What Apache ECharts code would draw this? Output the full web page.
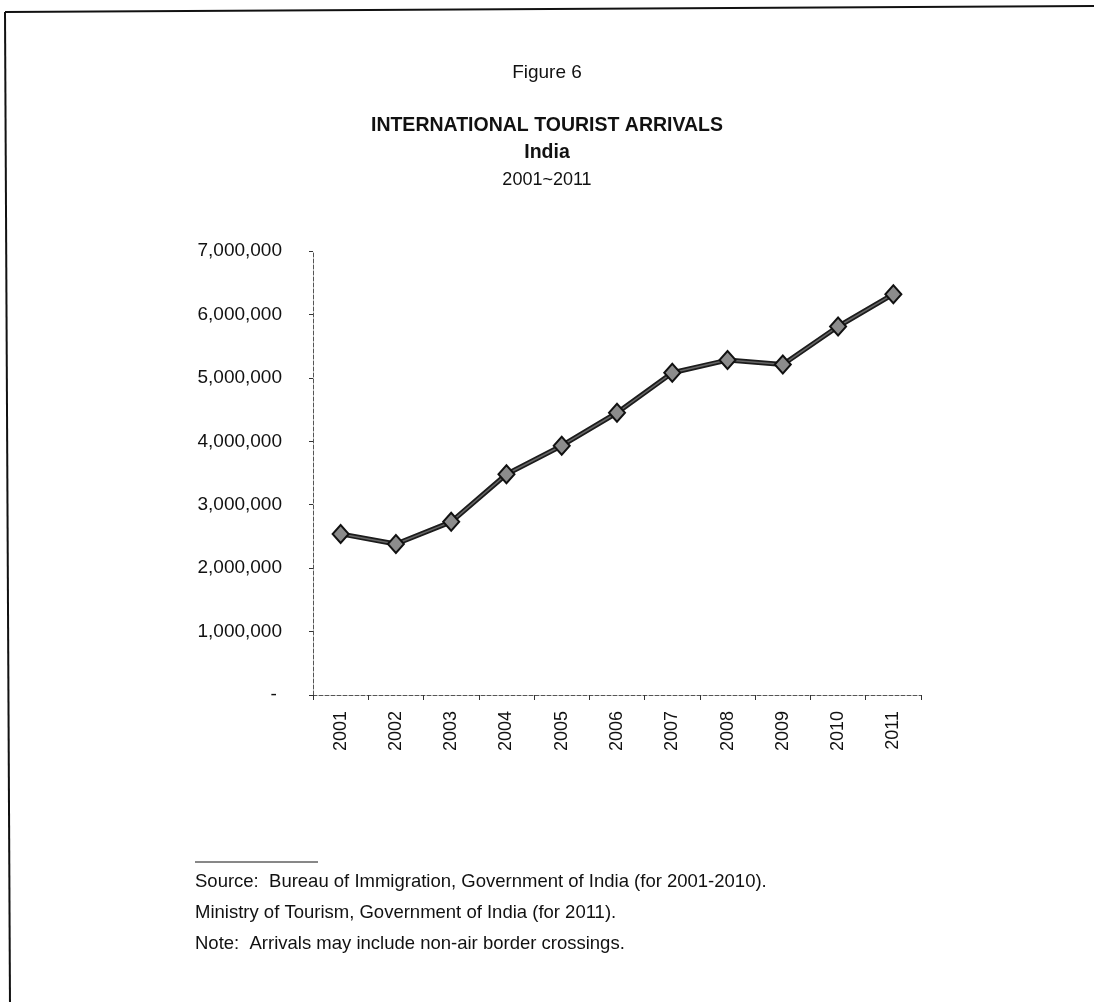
<!DOCTYPE html>
<html>
<head>
<meta charset="utf-8">
<title>International Tourist Arrivals - India 2001~2011</title>
<script src="https://cdn.jsdelivr.net/npm/echarts@6/dist/echarts.min.js"></script>
<style>
  html, body { margin: 0; padding: 0; background: #fff; }
  #chart { width: 1094px; height: 1002px; }
</style>
</head>
<body>
<div id="chart"></div>
<script>
// Years on the category axis
const years = ['2001', '2002', '2003', '2004', '2005', '2006', '2007', '2008', '2009', '2010', '2011'];
// International tourist arrivals, persons
const arrivals = [2540000, 2380000, 2730000, 3480000, 3930000, 4450000, 5080000, 5280000, 5210000, 5810000, 6320000];
// Value axis ticks
const yTicks = [0, 1000000, 2000000, 3000000, 4000000, 5000000, 6000000, 7000000];
// Heading lines
const headings = ['Figure 6', 'INTERNATIONAL TOURIST ARRIVALS', 'India', '2001~2011'];
// Footnote lines
const notes = [
  'Source:  Bureau of Immigration, Government of India (for 2001-2010).',
  'Ministry of Tourism, Government of India (for 2011).',
  'Note:  Arrivals may include non-air border crossings.'
];

const FONT = '"Liberation Sans", Arial, sans-serif';
const chart = echarts.init(document.getElementById('chart'), null, { renderer: 'canvas' });

// zero is shown as a dash, as in accounting format
function fmt(v) {
  if (v === 0) return '- ';
  return v.toLocaleString('en-US');
}

function heading(text, y, font) {
  return {
    type: 'text',
    style: { text: text, x: 547, y: y, align: 'center', verticalAlign: 'middle', font: font, fill: '#111' }
  };
}

function note(text, y) {
  return {
    type: 'text',
    style: { text: text, x: 195, y: y, align: 'left', verticalAlign: 'middle', font: '18.5px ' + FONT, fill: '#111' }
  };
}

const option = {
  backgroundColor: '#ffffff',
  animation: false,
  grid: { left: 313, right: 173, top: 251, bottom: 307, containLabel: false },
  xAxis: {
    type: 'category',
    data: years,
    boundaryGap: true,
    axisLine: { show: true, lineStyle: { color: '#555', width: 1, type: 'dashed' } },
    axisTick: { show: true, length: 5, lineStyle: { color: '#333' } },
    axisLabel: { rotate: 90, margin: 16, fontFamily: FONT, fontSize: 18, color: '#111' },
    splitLine: { show: false }
  },
  yAxis: {
    type: 'value',
    min: yTicks[0],
    max: yTicks[yTicks.length - 1],
    interval: 1000000,
    axisLine: { show: true, lineStyle: { color: '#555', width: 1, type: 'dashed' } },
    axisTick: { show: true, length: 4, lineStyle: { color: '#333' } },
    axisLabel: { margin: 31, fontFamily: FONT, fontSize: 19, color: '#111', formatter: fmt },
    splitLine: { show: false }
  },
  series: [
    {
      // dark outer band of the trend line
      type: 'line',
      data: arrivals,
      symbol: 'none',
      silent: true,
      lineStyle: { color: '#1c1c1c', width: 5 },
      z: 2
    },
    {
      type: 'line',
      data: arrivals,
      symbol: 'diamond',
      symbolSize: [16, 18],
      itemStyle: { color: '#8c8c8c', borderColor: '#111', borderWidth: 2 },
      lineStyle: { color: '#666', width: 1.5 },
      z: 3
    }
  ],
  graphic: [
    // page frame
    { type: 'line', shape: { x1: 5, y1: 12, x2: 1094, y2: 6 }, style: { stroke: '#111', lineWidth: 2 } },
    { type: 'line', shape: { x1: 5, y1: 12, x2: 10, y2: 1002 }, style: { stroke: '#111', lineWidth: 2 } },
    heading(headings[0], 73, '19px ' + FONT),
    heading(headings[1], 126, 'bold 19.5px ' + FONT),
    heading(headings[2], 153, 'bold 19.5px ' + FONT),
    heading(headings[3], 180, '18px ' + FONT),
    // footnote rule
    { type: 'line', shape: { x1: 195, y1: 862, x2: 318, y2: 862 }, style: { stroke: '#111', lineWidth: 1 } },
    note(notes[0], 882),
    note(notes[1], 913),
    note(notes[2], 944)
  ]
};

chart.setOption(option);
</script>
</body>
</html>
